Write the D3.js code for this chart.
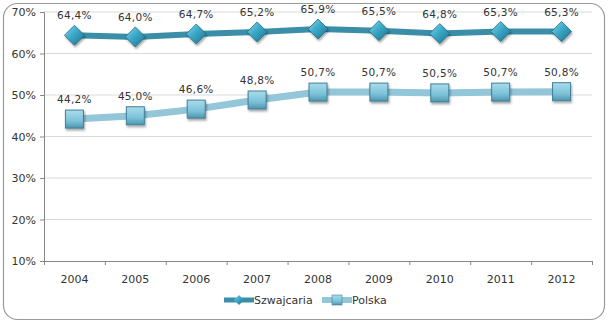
<!DOCTYPE html>
<html>
<head>
<meta charset="utf-8">
<script src="https://cdn.jsdelivr.net/npm/d3@7"></script>
<style>
  body { margin: 0; background: #fff; }
  svg text { font-family: "DejaVu Sans", Verdana, sans-serif; fill: #333; }
</style>
</head>
<body>
<svg id="drawing_region"></svg>
<script>
const years = ["2004", "2005", "2006", "2007", "2008", "2009", "2010", "2011", "2012"];
const szwajcaria = [64.4, 64.0, 64.7, 65.2, 65.9, 65.5, 64.8, 65.3, 65.3];
const polska = [44.2, 45.0, 46.6, 48.8, 50.7, 50.7, 50.5, 50.7, 50.8];
const yTicks = [10, 20, 30, 40, 50, 60, 70];

const config = {
    width: 609,
    height: 325,
    margin: {top: 12, right: 17, bottom: 64, left: 44}
};

const svg = d3.select('#drawing_region')
    .attr('width', config.width)
    .attr('height', config.height);

const defs = svg.append('defs');

const gd = defs.append('linearGradient').attr('id', 'diam')
    .attr('x1', 0).attr('y1', 0).attr('x2', 1).attr('y2', 1);
gd.append('stop').attr('offset', '0%').attr('stop-color', '#8fd6ea');
gd.append('stop').attr('offset', '45%').attr('stop-color', '#3aa9c8');
gd.append('stop').attr('offset', '100%').attr('stop-color', '#1d6f88');

const gs = defs.append('linearGradient').attr('id', 'sq')
    .attr('x1', 0).attr('y1', 0).attr('x2', 0).attr('y2', 1);
gs.append('stop').attr('offset', '0%').attr('stop-color', '#a9dcec');
gs.append('stop').attr('offset', '60%').attr('stop-color', '#7cc2d9');
gs.append('stop').attr('offset', '100%').attr('stop-color', '#4f95ad');

const shadow = defs.append('filter').attr('id', 'shadow')
    .attr('x', '-50%').attr('y', '-50%').attr('width', '200%').attr('height', '200%');
shadow.append('feDropShadow').attr('dx', 1).attr('dy', 2)
    .attr('stdDeviation', 1.2).attr('flood-color', '#000').attr('flood-opacity', 0.35);

// outer frame
svg.append('rect')
    .attr('x', 3.5).attr('y', 3.5)
    .attr('width', 601).attr('height', 316)
    .attr('rx', 14)
    .attr('fill', '#fff')
    .attr('stroke', '#9a9a9a')
    .attr('stroke-width', 1.2);

const chart = svg.append('g')
    .attr('transform', `translate(${config.margin.left}, ${config.margin.top})`);

const inner_width = config.width - config.margin.left - config.margin.right;
const inner_height = config.height - config.margin.top - config.margin.bottom;

const xscale = d3.scaleBand()
    .domain(years)
    .range([0, inner_width]);

const yscale = d3.scaleLinear()
    .domain([10, 70])
    .range([inner_height, 0]);

const cx = d => xscale(d) + xscale.bandwidth() / 2;

// gridlines
chart.append('g')
    .selectAll('line')
    .data(yTicks.slice(1))
    .join('line')
    .attr('x1', 0).attr('x2', inner_width)
    .attr('y1', d => yscale(d)).attr('y2', d => yscale(d))
    .attr('stroke', '#d9d9d9');

// axes
const yaxis = d3.axisLeft(yscale)
    .tickValues(yTicks)
    .tickFormat(d => d + '%')
    .tickSize(4)
    .tickPadding(4);
const yaxis_group = chart.append('g').call(yaxis);

const xaxis = d3.axisBottom(d3.scaleLinear().domain([0, years.length]).range([0, inner_width]))
    .tickValues(d3.range(years.length + 1))
    .tickFormat('')
    .tickSize(4);
const xaxis_group = chart.append('g')
    .attr('transform', `translate(0, ${inner_height})`)
    .call(xaxis);

[yaxis_group, xaxis_group].forEach(g => {
    g.select('.domain').attr('stroke', '#888');
    g.selectAll('.tick line').attr('stroke', '#888');
    g.selectAll('text').attr('font-size', 11).attr('fill', '#333');
});

chart.append('g')
    .selectAll('text')
    .data(years)
    .join('text')
    .attr('x', d => cx(d))
    .attr('y', inner_height + 22)
    .attr('text-anchor', 'middle')
    .attr('font-size', 11)
    .text(d => d);

const line = d3.line()
    .x((d, i) => cx(years[i]))
    .y(d => yscale(d));

// Polska series
chart.append('path')
    .datum(polska)
    .attr('d', line)
    .attr('fill', 'none')
    .attr('stroke', '#93c6d8')
    .attr('stroke-width', 7);

chart.append('g')
    .selectAll('rect')
    .data(polska)
    .join('rect')
    .attr('x', (d, i) => cx(years[i]) - 9)
    .attr('y', d => yscale(d) - 9)
    .attr('width', 18).attr('height', 18)
    .attr('fill', 'url(#sq)')
    .attr('stroke', '#3f8098')
    .attr('stroke-width', 1)
    .attr('filter', 'url(#shadow)');

// Szwajcaria series
chart.append('path')
    .datum(szwajcaria)
    .attr('d', line)
    .attr('fill', 'none')
    .attr('stroke', '#3a8ea8')
    .attr('stroke-width', 6);

chart.append('g')
    .selectAll('path')
    .data(szwajcaria)
    .join('path')
    .attr('transform', (d, i) => `translate(${cx(years[i])}, ${yscale(d)})`)
    .attr('d', 'M0,-10 L10,0 L0,10 L-10,0 Z')
    .attr('fill', 'url(#diam)')
    .attr('stroke', '#1f6c84')
    .attr('stroke-width', 0.8)
    .attr('filter', 'url(#shadow)');

// value labels
const fmt = v => v.toFixed(1).replace('.', ',') + '%';
[szwajcaria, polska].forEach(series => {
    chart.append('g')
        .selectAll('text')
        .data(series)
        .join('text')
        .attr('x', (d, i) => cx(years[i]))
        .attr('y', d => yscale(d) - 16)
        .attr('text-anchor', 'middle')
        .attr('font-size', 10.5)
        .attr('letter-spacing', 0.3)
        .text(d => fmt(d));
});

// legend
const legend = svg.append('g').attr('transform', 'translate(224, 300)');
legend.append('line')
    .attr('x1', 0).attr('x2', 30).attr('y1', 0).attr('y2', 0)
    .attr('stroke', '#3a8ea8').attr('stroke-width', 5);
legend.append('path')
    .attr('transform', 'translate(15, 0)')
    .attr('d', 'M0,-5 L5,0 L0,5 L-5,0 Z')
    .attr('fill', 'url(#diam)');
legend.append('text')
    .attr('x', 30).attr('y', 4)
    .attr('font-size', 11)
    .text('Szwajcaria');

legend.append('line')
    .attr('x1', 98).attr('x2', 128).attr('y1', 0).attr('y2', 0)
    .attr('stroke', '#93c6d8').attr('stroke-width', 6);
legend.append('rect')
    .attr('x', 108).attr('y', -5).attr('width', 10).attr('height', 10)
    .attr('fill', 'url(#sq)').attr('stroke', '#3f8098').attr('stroke-width', 0.6);
legend.append('text')
    .attr('x', 128).attr('y', 4)
    .attr('font-size', 11)
    .text('Polska');
</script>
</body>
</html>
